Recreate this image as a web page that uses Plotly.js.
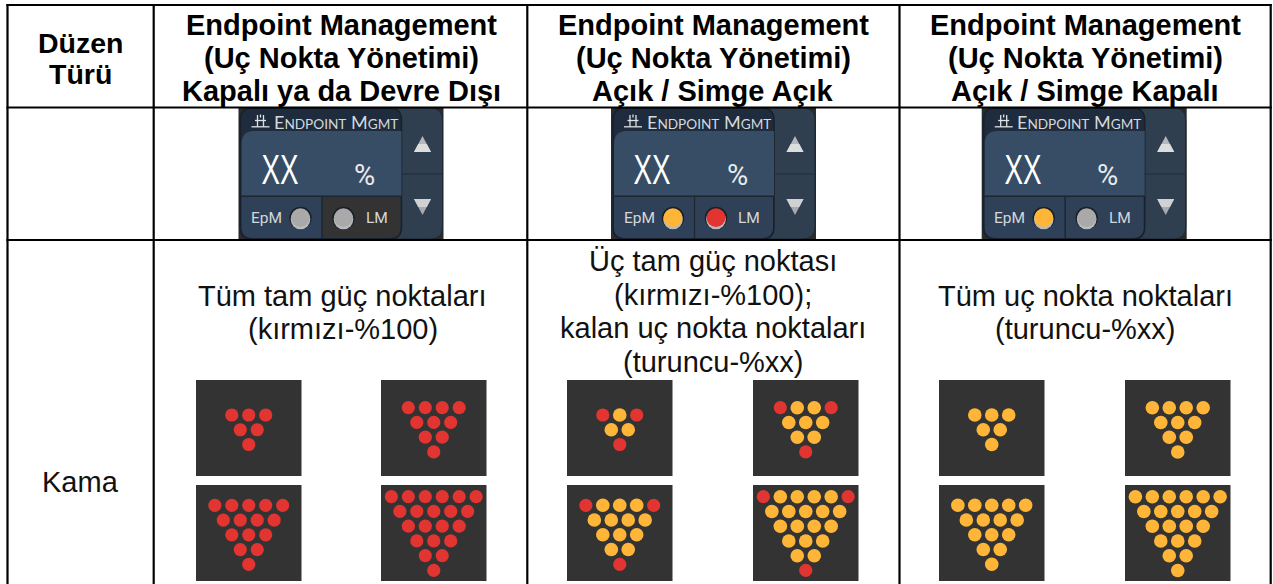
<!DOCTYPE html>
<html><head><meta charset="utf-8">
<script src="https://cdn.plot.ly/plotly-3.0.1.min.js"></script>
<style>html,body{margin:0;padding:0;background:#fff;overflow:hidden}</style>
</head><body><div id="chart" style="width:1273px;height:584px"></div>
<script>
// ---- table text ----
const headerRowLabels = [
  ["Düzen","Türü"],
  ["Endpoint Management","(Uç Nokta Yönetimi)","Kapalı ya da Devre Dışı"],
  ["Endpoint Management","(Uç Nokta Yönetimi)","Açık / Simge Açık"],
  ["Endpoint Management","(Uç Nokta Yönetimi)","Açık / Simge Kapalı"]
];
const bodyRowLabel = "Kama";
const columnDescriptions = [
  ["Tüm tam güç noktaları","(kırmızı-%100)"],
  ["Üç tam güç noktası","(kırmızı-%100);","kalan uç nokta noktaları","(turuncu-%xx)"],
  ["Tüm uç nokta noktaları","(turuncu-%xx)"]
];
// ---- indicator widget states: EpM lamp, LM lamp, LM cell tone ----
const epmLamp = ["off","orange","orange"];
const lmLamp  = ["off","red","off"];
const lmCell  = ["dark","blue","blue"];
// ---- wedge dot layouts, row by row (r = full power red, o = endpoint orange) ----
const wedgesRed = [["rrr","rr","r"],["rrrr","rrr","rr","r"],["rrrrr","rrrr","rrr","rr","r"],["rrrrrr","rrrrr","rrrr","rrr","rr","r"]];
const wedgesMixed = [["ror","oo","r"],["roor","ooo","oo","r"],["rooor","oooo","ooo","oo","r"],["roooor","ooooo","oooo","ooo","oo","r"]];
const wedgesOrange = [["ooo","oo","o"],["oooo","ooo","oo","o"],["ooooo","oooo","ooo","oo","o"],["oooooo","ooooo","oooo","ooo","oo","o"]];
const wedgeColumns = [wedgesRed, wedgesMixed, wedgesOrange];

// ---- page geometry (pixel axes) ----
const gridX = [7.5,153.7,527.3,899.5,1270.7];
const gridY = [5,107.5,240];
const headerCx = [80.5,341,713,1085];
const headerLineY = {2:[42.5,74],3:[25,58,91]};
const bodyCx = [342.5,713,1085];
const widgetX = [238.5,611,981.7];
const widgetY = 108;
const squareX = [[196,381],[567,753],[939,1125]];
const squareW = 105.5, squareH = 96;
const squareY = [380,485];
const firstRowY = [35,27.7,20.3,11.7];
const DX = 16.95, DY = 14.75;

const RED="#e23431", ORANGE="#ffb638", SQ="#333333";
const FONT="'Liberation Sans', Arial, sans-serif";
let shapes=[], ann=[];
const rr=(x0,y0,x1,y1,tl,tr,br,bl)=>`M${x0+tl},${y0}L${x1-tr},${y0}Q${x1},${y0} ${x1},${y0+tr}L${x1},${y1-br}Q${x1},${y1} ${x1-br},${y1}L${x0+bl},${y1}Q${x0},${y1} ${x0},${y1-bl}L${x0},${y0+tl}Q${x0},${y0} ${x0+tl},${y0}Z`;
const S=o=>shapes.push(Object.assign({xref:"x",yref:"y",layer:"below"},o));
const P=(path,fill,lc,lw)=>S({type:"path",path,fillcolor:fill,line:{color:lc||fill,width:lc?(lw||1):0}});
const C=(cx,cy,r,fill)=>S({type:"circle",x0:cx-r,x1:cx+r,y0:cy-r,y1:cy+r,fillcolor:fill,line:{width:0}});
const R=(x0,y0,x1,y1,fill)=>S({type:"rect",x0,x1,y0,y1,fillcolor:fill,line:{width:0}});
const L=(x0,y0,x1,y1,c,w)=>S({type:"line",x0,x1,y0,y1,line:{color:c,width:w}});
const T=(x,y,text,size,color,family,opt)=>ann.push(Object.assign({xref:"x",yref:"y",x,y,text,showarrow:false,xanchor:"center",yanchor:"middle",align:"center",font:{size,color,family:family||FONT}},opt||{}));

// widgets
const lampFill={off:"#a9a9a9",orange:ORANGE,red:RED};
widgetX.forEach((ox,i)=>{
  const X=v=>ox+v, Y=v=>widgetY+v;
  R(X(0),Y(-0.5),X(205),Y(132),"#2b2b2b");
  P(rr(X(1),Y(0),X(204),Y(131),12,12,12,12),"#303f4f","#1d2630",1);
  P(rr(X(2),Y(0),X(163),Y(131),12,12,12,12),"#1e2c3d","#18212b",1.5);
  P(rr(X(3),Y(23),X(163),Y(88),13,0,0,0),"#374d65");
  P(rr(X(3),Y(89),X(83),Y(130),0,0,0,11),"#2f4159");
  P(rr(X(84),Y(89),X(162),Y(130),0,0,11,0),lmCell[i]==="dark"?"#333333":"#2f4057");
  L(X(3),Y(88.3),X(163),Y(88.3),"#1d2631",1.5);
  L(X(83.5),Y(88),X(83.5),Y(130),"#1d2631",1.2);
  L(X(163),Y(66),X(204),Y(66),"#222d39",1.2);
  // arrows
  P(`M${X(184)},${Y(28)}L${X(192.5)},${Y(44)}L${X(175.5)},${Y(44)}Z`,"#b4b8bc");
  P(`M${X(179.7)},${Y(36)}L${X(188.3)},${Y(36)}L${X(192.5)},${Y(44)}L${X(175.5)},${Y(44)}Z`,"#dcdddd");
  P(`M${X(175.5)},${Y(91)}L${X(192.5)},${Y(91)}L${X(184)},${Y(107)}Z`,"#a6abb0");
  P(`M${X(175.5)},${Y(91)}L${X(192.5)},${Y(91)}L${X(188.3)},${Y(99)}L${X(179.7)},${Y(99)}Z`,"#cfd1d3");
  // lamps
  [[62,epmLamp[i]],[105,lmLamp[i]]].forEach(([cx,st])=>{
    C(X(cx),Y(110),11.2,"#1b2027");
    C(X(cx),Y(111.5),9.8,"#b9bcbe");
    C(X(cx),Y(109.7),9.4,lampFill[st]);
  });
  // header icon
  L(X(13),Y(18.8),X(31),Y(18.8),"#dfe2e5",1.3);
  L(X(19),Y(7),X(19),Y(18.8),"#dfe2e5",1.3);
  L(X(25),Y(7),X(25),Y(18.8),"#dfe2e5",1.3);
  L(X(16.5),Y(12.5),X(27.5),Y(12.5),"#dfe2e5",1.3);
  L(X(22),Y(6.5),X(22),Y(9.5),"#dfe2e5",1.3);
  // widget text
  const small=t=>`<span style="font-size:13.6px">${t}</span>`;
  T(X(97.5),Y(13.5),"E"+small("NDPOINT")+" M"+small("GMT"),18,"#d6d9dc","Lato, 'Open Sans', sans-serif");
  T(X(41),Y(61),"XX",42,"#ffffff",FONT);
  T(X(126),Y(67),"%",29,"#e8eaec","Roboto, sans-serif");
  T(X(28),Y(110),"EpM",15.5,"#d4d7da","Roboto, sans-serif");
  T(X(138),Y(110),"LM",15.5,"#d4d7da","Roboto, sans-serif");
});

// wedge backgrounds
squareX.forEach(pair=>pair.forEach(x=>squareY.forEach(y=>R(x,y,x+squareW,y+squareH,SQ))));

// grid
gridX.forEach(x=>L(x,4,x,584,"#000",2.2));
gridY.forEach(y=>L(6.4,y,1271.8,y,"#000",2.2));

// text
headerRowLabels.forEach((lines,i)=>{
  const ys=headerLineY[lines.length];
  lines.forEach((t,j)=>T(headerCx[i],ys[j],`<b>${t}</b>`,i===0?28.5:29,"#000"));
});
columnDescriptions.forEach((lines,i)=>{
  const ys=lines.length===4?[261,295,328,362]:[295.5,328.5];
  lines.forEach((t,j)=>T(bodyCx[i],ys[j],t,29,"#111"));
});
T(80.5,482,bodyRowLabel,29,"#111");

// dots
const pts={r:{x:[],y:[]},o:{x:[],y:[]}};
wedgeColumns.forEach((wedges,c)=>{
  wedges.forEach((rows,k)=>{
    const sx=squareX[c][k%2], sy=squareY[k>>1];
    const cx=sx+squareW/2;
    rows.forEach((row,ri)=>{
      [...row].forEach((ch,di)=>{
        pts[ch].x.push(cx+(di-(row.length-1)/2)*DX);
        pts[ch].y.push(sy+firstRowY[k]+ri*DY);
      });
    });
  });
});
const dotTrace=(p,color,size)=>({type:"scatter",mode:"markers",x:p.x,y:p.y,hoverinfo:"skip",
  marker:{color,size,line:{width:0}},cliponaxis:false});
const data=[dotTrace(pts.r,RED,13.2),dotTrace(pts.o,ORANGE,13.6)];
const layout={width:1273,height:584,margin:{l:0,r:0,t:0,b:0,pad:0},showlegend:false,
  paper_bgcolor:"#fff",plot_bgcolor:"#fff",
  xaxis:{range:[0,1273],visible:false,fixedrange:true},
  yaxis:{range:[584,0],visible:false,fixedrange:true},
  shapes,annotations:ann};
Plotly.newPlot("chart",data,layout,{staticPlot:true,displayModeBar:false}).then(gd=>{
  // the widget's "XX" readout uses a tall condensed face: narrow the real text about its centre
  gd.querySelectorAll(".annotation-text").forEach(t=>{
    if(t.textContent==="XX"){
      const b=t.getBBox(), c=b.x+b.width/2;
      t.setAttribute("transform",`translate(${c} 0) scale(0.66 1) translate(${-c} 0)`);
    }
  });
});
</script></body></html>
